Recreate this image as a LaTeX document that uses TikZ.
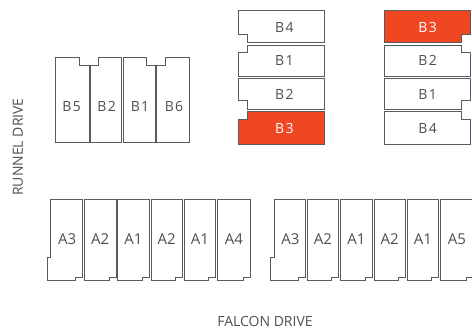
\documentclass[tikz,border=0pt]{standalone}
\usepackage{fontspec}
\setmainfont{Open Sans}[Numbers=Lining]
\newfontfamily\spacedfont[LetterSpace=10,Numbers=Lining]{Open Sans}
\definecolor{wallgray}{HTML}{5A5B60}
\definecolor{textgray}{HTML}{4E4F55}
\definecolor{soldred}{HTML}{F04723}
\begin{document}
\begin{tikzpicture}[x=1pt,y=-1pt,lot/.style={draw=wallgray,line width=0.9pt,fill=white,line join=miter}]
		\tikzstyle{soldlot}=[lot,fill=soldred]
		\tikzstyle{alabel}=[text=textgray,font=\fontsize{15}{15}\selectfont,inner sep=0pt,anchor=base]
		\tikzstyle{blabel}=[text=textgray,font=\fontsize{14}{15}\spacedfont,inner sep=0pt,anchor=base]
		\tikzstyle{soldlabel}=[blabel,text=white]
		\tikzstyle{road}=[text=textgray,font=\fontsize{14}{15}\selectfont,inner sep=0pt]
		\useasboundingbox (0,0) rectangle (472,333);
		\clip (0,0) rectangle (472,333);
		% bottom rows
		\foreach \l/\r/\t [count=\n] in {84.3/116/A2,117.3/149.3/A1,151/182.3/A2,184.3/215.7/A1,217.7/250/A4,
			307.3/338.7/A2,340.3/372.3/A1,374/405.3/A2,407.3/438.7/A1,440.7/473/A5}
		{\draw[lot] (\l,199.3) -- (\r,199.3) -- (\r,277.3) -- (\r-7,277.3) -- (\r-7,280) -- (\l,280) -- cycle;
			\node[alabel] (a\n) at ({(\l+\r)/2},244) {\t};}
		\foreach \l/\r/\u in {50.7/82.7/u,274/305.7/v}
		{\draw[lot] (\l,199.3) -- (\r,199.3) -- (\r,277.3) -- (\r-7,277.3) -- (\r-7,280) -- (\l-3.4,280) -- (\l-3.4,257.3) -- (\l,257.3) -- cycle;
			\node[alabel] (\u3) at ({(\l+\r)/2+0.5},244) {A3};}
		% left block
		\draw[lot] (55,57) -- (79.7,57) -- (79.7,65.7) -- (89,65.7) -- (89,142.7) -- (55,142.7) -- cycle;
		\draw[lot] (90,65.7) -- (98.3,65.7) -- (98.3,57) -- (121.7,57) -- (121.7,142.7) -- (90,142.7) -- cycle;
		\draw[lot] (123.3,57) -- (146.3,57) -- (146.3,65.7) -- (155.7,65.7) -- (155.7,142.7) -- (123.3,142.7) -- cycle;
		\draw[lot] (156.7,65.7) -- (165,65.7) -- (165,57) -- (189,57) -- (189,142.7) -- (156.7,142.7) -- cycle;
		\foreach \x/\t in {71.7/B5,106.7/B2,140/B1,174/B6}
		{\node[blabel] (l\t) at (\x,111) {\t};}
		% middle block
		\draw[lot] (238.3,10) -- (324.3,10) -- (324.3,42.7) -- (247.3,42.7) -- (247.3,34) -- (238.3,34) -- cycle;
		\draw[lot] (247.3,45) -- (324.3,45) -- (324.3,76) -- (238.3,76) -- (238.3,52.3) -- (247.3,52.3) -- cycle;
		\draw[lot] (238.3,78) -- (324.3,78) -- (324.3,109.3) -- (247.3,109.3) -- (247.3,100.7) -- (238.3,100.7) -- cycle;
		\draw[soldlot] (247.3,111.3) -- (324.3,111.3) -- (324.3,144) -- (238.3,144) -- (238.3,119) -- (247.3,119) -- cycle;
		\node[blabel] (m4) at (284.3,32) {B4};
		\node[blabel] (m1) at (284.3,65.3) {B1};
		\node[blabel] (m2) at (284.3,99) {B2};
		\node[soldlabel] (m3) at (284.3,133.3) {B3};
		% right block
		\draw[soldlot] (384.3,10) -- (470.7,10) -- (470.7,34) -- (461.7,34) -- (461.7,42.7) -- (384.3,42.7) -- cycle;
		\draw[lot] (384.3,45) -- (461.7,45) -- (461.7,52.3) -- (470.7,52.3) -- (470.7,76) -- (384.3,76) -- cycle;
		\draw[lot] (384.3,78) -- (470.7,78) -- (470.7,100.7) -- (461.7,100.7) -- (461.7,109.3) -- (384.3,109.3) -- cycle;
		\draw[lot] (384.3,111.3) -- (461.7,111.3) -- (461.7,119) -- (470.7,119) -- (470.7,144) -- (384.3,144) -- cycle;
		\node[soldlabel] (r3) at (427.7,32) {B3};
		\node[blabel] (r2) at (427.7,65.3) {B2};
		\node[blabel] (r1) at (427.7,99) {B1};
		\node[blabel] (r4) at (427.7,133.3) {B4};
		% streets
		\node[road,rotate=90] (runnel) at (18,147) {RUNNEL DRIVE};
		\node[road] (falcon) at (265,321) {FALCON DRIVE};
		\end{tikzpicture}
\end{document}
